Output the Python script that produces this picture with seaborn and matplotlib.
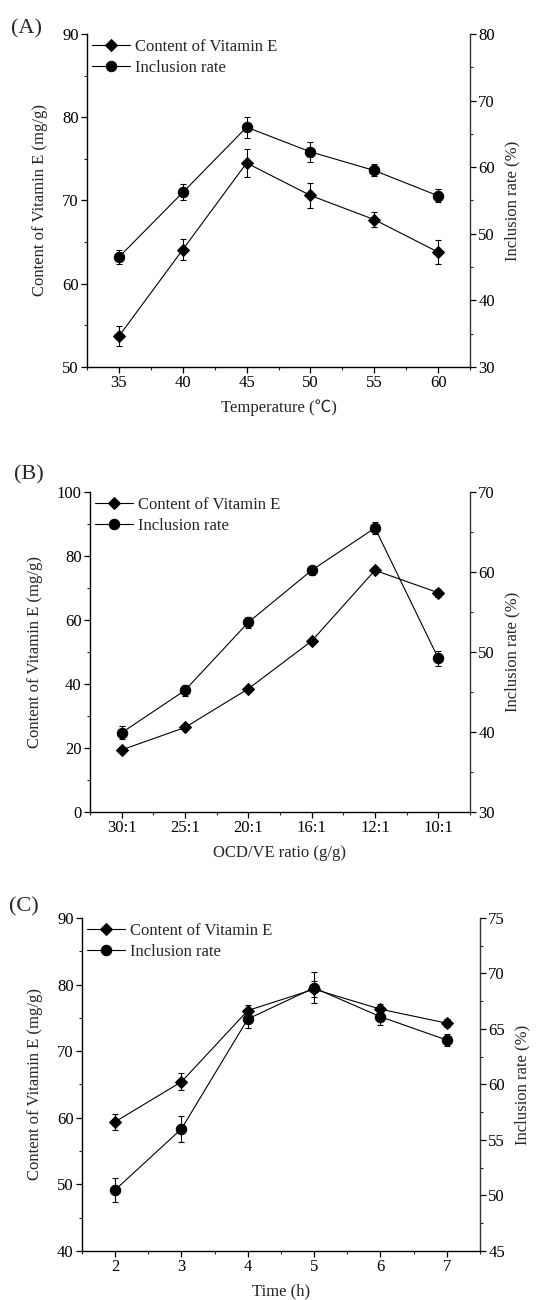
import numpy as np
import pandas as pd
import matplotlib
matplotlib.use("Agg")
import matplotlib.pyplot as plt
from matplotlib.ticker import MultipleLocator
import seaborn as sns

# ---------------- data ----------------
temp_x = [35, 40, 45, 50, 55, 60]
temp_ve = [53.7, 64.1, 74.5, 70.6, 67.7, 63.8]
temp_ve_err = [1.2, 1.3, 1.7, 1.5, 0.9, 1.4]
temp_ir = [46.5, 56.2, 66.0, 62.3, 59.5, 55.7]
temp_ir_err = [1.1, 1.2, 1.6, 1.5, 0.9, 1.0]

ratio_labels = ["30:1", "25:1", "20:1", "16:1", "12:1", "10:1"]
ratio_ve = [19.4, 26.4, 38.5, 53.4, 75.5, 68.5]
ratio_ve_err = [0.6, 0.5, 0.5, 0.5, 0.6, 1.2]
ratio_ir = [39.9, 45.2, 53.7, 60.2, 65.5, 49.2]
ratio_ir_err = [0.8, 0.7, 0.7, 0.55, 0.7, 0.95]

time_x = [2, 3, 4, 5, 6, 7]
time_ve = [59.4, 65.4, 76.1, 79.3, 76.3, 74.2]
time_ve_err = [1.2, 1.3, 0.8, 1.2, 0.8, 0.6]
time_ir = [50.5, 56.0, 65.9, 68.7, 66.1, 64.0]
time_ir_err = [1.05, 1.15, 0.8, 1.4, 0.7, 0.55]

ve_label = "Content of Vitamin E"
ir_label = "Inclusion rate"
left_ylabel = "Content of Vitamin E (mg/g)"
right_ylabel = "Inclusion rate (%)"

# ---------------- style ----------------
sns.set_style("ticks")
plt.rcParams["font.family"] = ["Liberation Serif", "Noto Sans CJK SC", "DejaVu Sans"]
plt.rcParams["mathtext.fontset"] = "stix"
FS = 12

fig = plt.figure(figsize=(5.44, 13), dpi=100)

panels = [
    dict(rect=[0.160, 0.7177, 0.704, 0.2562], tag="(A)", tagpos=(0.020, 0.9778),
         x=temp_x, ve=temp_ve, vee=temp_ve_err, ir=temp_ir, ire=temp_ir_err,
         xlim=(32.5, 62.5), xmaj=5, xmin=2.5, xticklabels=None,
         ylim=(50, 90), ymaj=10, ymin=5, y2lim=(30, 80), y2maj=10, y2min=5,
         xlabel="Temperature (\u2103)"),
    dict(rect=[0.1654, 0.3754, 0.6985, 0.2462], tag="(B)", tagpos=(0.026, 0.6346),
         x=list(range(len(ratio_labels))), ve=ratio_ve, vee=ratio_ve_err, ir=ratio_ir, ire=ratio_ir_err,
         xlim=(-0.5, 5.5), xmaj=1, xmin=0.5, xticklabels=ratio_labels,
         ylim=(0, 100), ymaj=20, ymin=10, y2lim=(30, 70), y2maj=10, y2min=5,
         xlabel="OCD/VE ratio (g/g)"),
    dict(rect=[0.1507, 0.0377, 0.7316, 0.2562], tag="(C)", tagpos=(0.016, 0.3025),
         x=time_x, ve=time_ve, vee=time_ve_err, ir=time_ir, ire=time_ir_err,
         xlim=(1.5, 7.5), xmaj=1, xmin=0.5, xticklabels=None,
         ylim=(40, 90), ymaj=10, ymin=5, y2lim=(45, 75), y2maj=5, y2min=2.5,
         xlabel="Time (h)"),
]

for p in panels:
    ax = fig.add_axes(p["rect"])
    ax2 = ax.twinx()
    df_ve = pd.DataFrame({"x": p["x"], "y": p["ve"]})
    df_ir = pd.DataFrame({"x": p["x"], "y": p["ir"]})
    sns.lineplot(data=df_ve, x="x", y="y", ax=ax, color="black", lw=0.8,
                 marker="D", markersize=6.5, markeredgecolor="black", legend=False)
    ax.errorbar(p["x"], p["ve"], yerr=p["vee"], fmt="none", ecolor="black",
                elinewidth=0.8, capsize=2.5, capthick=0.8)
    sns.lineplot(data=df_ir, x="x", y="y", ax=ax2, color="black", lw=0.8,
                 marker="o", markersize=7.5, markeredgecolor="black", legend=False)
    ax2.errorbar(p["x"], p["ir"], yerr=p["ire"], fmt="none", ecolor="black",
                 elinewidth=0.8, capsize=2.5, capthick=0.8)

    ax.set_xlim(*p["xlim"])
    ax.set_ylim(*p["ylim"])
    ax2.set_ylim(*p["y2lim"])
    ax.xaxis.set_major_locator(MultipleLocator(p["xmaj"]))
    ax.xaxis.set_minor_locator(MultipleLocator(p["xmin"]))
    ax.yaxis.set_major_locator(MultipleLocator(p["ymaj"]))
    ax.yaxis.set_minor_locator(MultipleLocator(p["ymin"]))
    ax2.yaxis.set_major_locator(MultipleLocator(p["y2maj"]))
    ax2.yaxis.set_minor_locator(MultipleLocator(p["y2min"]))
    if p["xticklabels"] is not None:
        ax.set_xticks(p["x"])
        ax.set_xticklabels(p["xticklabels"])
    else:
        ax.set_xticklabels([f"{int(v)}" for v in ax.get_xticks()])

    for a in (ax, ax2):
        a.spines["top"].set_visible(False)
        for s in a.spines.values():
            s.set_linewidth(1.0)
            s.set_color("black")
        a.tick_params(which="major", direction="out", length=4, width=0.9,
                      labelsize=FS, colors="black", pad=2)
        a.tick_params(which="minor", direction="out", length=2.5, width=0.8)
    ax.spines["right"].set_visible(False)
    ax2.spines["left"].set_visible(False)
    ax2.spines["bottom"].set_visible(False)
    ax2.spines["right"].set_color("#333333")
    ax.tick_params(axis="x", which="both", top=False)
    ax2.tick_params(axis="x", which="both", top=False, bottom=False)

    ax.set_xlabel(p["xlabel"], fontsize=FS, labelpad=6)
    ax.set_ylabel(left_ylabel, fontsize=FS, labelpad=10)
    ax2.set_ylabel(right_ylabel, fontsize=FS, labelpad=7)

    h = [ax.lines[0], ax2.lines[0]]
    ax.legend(h, [ve_label, ir_label], loc="upper left", bbox_to_anchor=(0.0, 1.0),
              frameon=False, fontsize=FS, handlelength=2.3, handletextpad=0.3,
              labelspacing=0.3, borderpad=0.2, borderaxespad=0.1)
    ax.set_zorder(ax2.get_zorder() + 1)
    ax.patch.set_visible(False)

    fig.text(p["tagpos"][0], p["tagpos"][1], p["tag"], fontsize=16, va="center", ha="left")

fig.savefig("out.png", dpi=100)
